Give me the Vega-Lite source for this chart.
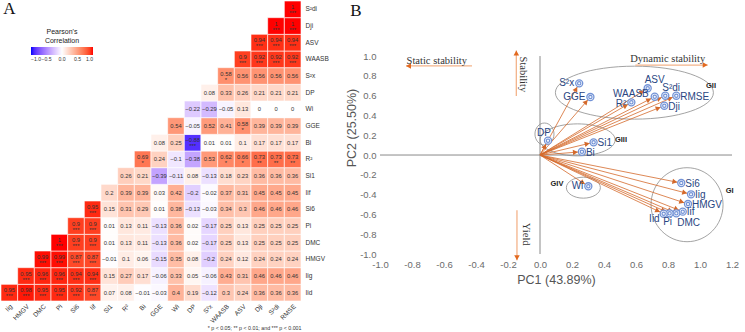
{
"$schema":"https://vega.github.io/schema/vega-lite/v6.json",
"padding":0,
"background":"white",
"config":{"view":{"stroke":null},"axis":{"grid":false,"ticks":false,"domain":false,"labelOverlap":false},"axisQuantitative":{"labelOverlap":false,"labelFlush":false},"font":"Liberation Sans"},
"spacing":16,
"datasets":{
"one":[{"k":1}],
"corr":[
{"r":"Iid","c":"Iig","v":0.95,"s":"***"},{"r":"Iid","c":"HMGV","v":0.98,"s":"***"},{"r":"Iid","c":"DMC","v":0.95,"s":"***"},{"r":"Iid","c":"Pi","v":0.95,"s":"***"},{"r":"Iid","c":"Si6","v":0.92,"s":"***"},{"r":"Iid","c":"Iif","v":0.87,"s":"***"},{"r":"Iid","c":"Si1","v":0.07,"s":""},{"r":"Iid","c":"R²","v":0.08,"s":""},{"r":"Iid","c":"Bi","v":-0.01,"s":""},{"r":"Iid","c":"GGE","v":-0.03,"s":""},{"r":"Iid","c":"Wi","v":0.4,"s":""},{"r":"Iid","c":"DP","v":0.19,"s":""},{"r":"Iid","c":"S²x","v":-0.12,"s":""},{"r":"Iid","c":"WAASB","v":0.3,"s":""},{"r":"Iid","c":"ASV","v":0.24,"s":""},{"r":"Iid","c":"Dji","v":0.36,"s":""},{"r":"Iid","c":"S²di","v":0.36,"s":""},{"r":"Iid","c":"RMSE","v":0.36,"s":""},
{"r":"Iig","c":"HMGV","v":0.95,"s":"***"},{"r":"Iig","c":"DMC","v":0.96,"s":"***"},{"r":"Iig","c":"Pi","v":0.96,"s":"***"},{"r":"Iig","c":"Si6","v":0.94,"s":"***"},{"r":"Iig","c":"Iif","v":0.94,"s":"***"},{"r":"Iig","c":"Si1","v":0.15,"s":""},{"r":"Iig","c":"R²","v":0.27,"s":""},{"r":"Iig","c":"Bi","v":0.17,"s":""},{"r":"Iig","c":"GGE","v":-0.06,"s":""},{"r":"Iig","c":"Wi","v":0.33,"s":""},{"r":"Iig","c":"DP","v":0.05,"s":""},{"r":"Iig","c":"S²x","v":-0.06,"s":""},{"r":"Iig","c":"WAASB","v":0.43,"s":""},{"r":"Iig","c":"ASV","v":0.31,"s":""},{"r":"Iig","c":"Dji","v":0.46,"s":""},{"r":"Iig","c":"S²di","v":0.46,"s":""},{"r":"Iig","c":"RMSE","v":0.46,"s":""},
{"r":"HMGV","c":"DMC","v":0.99,"s":"***"},{"r":"HMGV","c":"Pi","v":0.99,"s":"***"},{"r":"HMGV","c":"Si6","v":0.87,"s":"***"},{"r":"HMGV","c":"Iif","v":0.87,"s":"***"},{"r":"HMGV","c":"Si1","v":-0.01,"s":""},{"r":"HMGV","c":"R²","v":0.1,"s":""},{"r":"HMGV","c":"Bi","v":0.06,"s":""},{"r":"HMGV","c":"GGE","v":-0.15,"s":""},{"r":"HMGV","c":"Wi","v":0.35,"s":""},{"r":"HMGV","c":"DP","v":0.08,"s":""},{"r":"HMGV","c":"S²x","v":-0.2,"s":""},{"r":"HMGV","c":"WAASB","v":0.24,"s":""},{"r":"HMGV","c":"ASV","v":0.12,"s":""},{"r":"HMGV","c":"Dji","v":0.24,"s":""},{"r":"HMGV","c":"S²di","v":0.24,"s":""},{"r":"HMGV","c":"RMSE","v":0.24,"s":""},
{"r":"DMC","c":"Pi","v":1,"s":"***"},{"r":"DMC","c":"Si6","v":0.9,"s":"***"},{"r":"DMC","c":"Iif","v":0.9,"s":"***"},{"r":"DMC","c":"Si1","v":0.01,"s":""},{"r":"DMC","c":"R²","v":0.13,"s":""},{"r":"DMC","c":"Bi","v":0.11,"s":""},{"r":"DMC","c":"GGE","v":-0.13,"s":""},{"r":"DMC","c":"Wi","v":0.36,"s":""},{"r":"DMC","c":"DP","v":0.02,"s":""},{"r":"DMC","c":"S²x","v":-0.17,"s":""},{"r":"DMC","c":"WAASB","v":0.25,"s":""},{"r":"DMC","c":"ASV","v":0.13,"s":""},{"r":"DMC","c":"Dji","v":0.25,"s":""},{"r":"DMC","c":"S²di","v":0.25,"s":""},{"r":"DMC","c":"RMSE","v":0.25,"s":""},
{"r":"Pi","c":"Si6","v":0.9,"s":"***"},{"r":"Pi","c":"Iif","v":0.9,"s":"***"},{"r":"Pi","c":"Si1","v":0.01,"s":""},{"r":"Pi","c":"R²","v":0.13,"s":""},{"r":"Pi","c":"Bi","v":0.11,"s":""},{"r":"Pi","c":"GGE","v":-0.13,"s":""},{"r":"Pi","c":"Wi","v":0.36,"s":""},{"r":"Pi","c":"DP","v":0.02,"s":""},{"r":"Pi","c":"S²x","v":-0.17,"s":""},{"r":"Pi","c":"WAASB","v":0.25,"s":""},{"r":"Pi","c":"ASV","v":0.13,"s":""},{"r":"Pi","c":"Dji","v":0.25,"s":""},{"r":"Pi","c":"S²di","v":0.25,"s":""},{"r":"Pi","c":"RMSE","v":0.25,"s":""},
{"r":"Si6","c":"Iif","v":0.95,"s":"***"},{"r":"Si6","c":"Si1","v":0.15,"s":""},{"r":"Si6","c":"R²","v":0.31,"s":""},{"r":"Si6","c":"Bi","v":0.29,"s":""},{"r":"Si6","c":"GGE","v":0.01,"s":""},{"r":"Si6","c":"Wi","v":0.38,"s":""},{"r":"Si6","c":"DP","v":-0.13,"s":""},{"r":"Si6","c":"S²x","v":-0.03,"s":""},{"r":"Si6","c":"WAASB","v":0.34,"s":""},{"r":"Si6","c":"ASV","v":0.3,"s":""},{"r":"Si6","c":"Dji","v":0.46,"s":""},{"r":"Si6","c":"S²di","v":0.46,"s":""},{"r":"Si6","c":"RMSE","v":0.46,"s":""},
{"r":"Iif","c":"Si1","v":0.2,"s":""},{"r":"Iif","c":"R²","v":0.39,"s":""},{"r":"Iif","c":"Bi","v":0.39,"s":""},{"r":"Iif","c":"GGE","v":0.03,"s":""},{"r":"Iif","c":"Wi","v":0.42,"s":""},{"r":"Iif","c":"DP","v":-0.2,"s":""},{"r":"Iif","c":"S²x","v":-0.02,"s":""},{"r":"Iif","c":"WAASB","v":0.37,"s":""},{"r":"Iif","c":"ASV","v":0.31,"s":""},{"r":"Iif","c":"Dji","v":0.45,"s":""},{"r":"Iif","c":"S²di","v":0.45,"s":""},{"r":"Iif","c":"RMSE","v":0.45,"s":""},
{"r":"Si1","c":"R²","v":0.26,"s":""},{"r":"Si1","c":"Bi","v":0.21,"s":""},{"r":"Si1","c":"GGE","v":-0.39,"s":""},{"r":"Si1","c":"Wi","v":-0.11,"s":""},{"r":"Si1","c":"DP","v":0.08,"s":""},{"r":"Si1","c":"S²x","v":-0.13,"s":""},{"r":"Si1","c":"WAASB","v":0.18,"s":""},{"r":"Si1","c":"ASV","v":0.23,"s":""},{"r":"Si1","c":"Dji","v":0.36,"s":""},{"r":"Si1","c":"S²di","v":0.36,"s":""},{"r":"Si1","c":"RMSE","v":0.36,"s":""},
{"r":"R²","c":"Bi","v":0.69,"s":"*"},{"r":"R²","c":"GGE","v":0.24,"s":""},{"r":"R²","c":"Wi","v":-0.1,"s":""},{"r":"R²","c":"DP","v":-0.38,"s":""},{"r":"R²","c":"S²x","v":0.53,"s":""},{"r":"R²","c":"WAASB","v":0.62,"s":"*"},{"r":"R²","c":"ASV","v":0.66,"s":"*"},{"r":"R²","c":"Dji","v":0.73,"s":"**"},{"r":"R²","c":"S²di","v":0.73,"s":"**"},{"r":"R²","c":"RMSE","v":0.73,"s":"**"},
{"r":"Bi","c":"GGE","v":0.08,"s":""},{"r":"Bi","c":"Wi","v":0.25,"s":""},{"r":"Bi","c":"DP","v":-0.88,"s":"***"},{"r":"Bi","c":"S²x","v":0.01,"s":""},{"r":"Bi","c":"WAASB","v":0.01,"s":""},{"r":"Bi","c":"ASV","v":0.1,"s":""},{"r":"Bi","c":"Dji","v":0.17,"s":""},{"r":"Bi","c":"S²di","v":0.17,"s":""},{"r":"Bi","c":"RMSE","v":0.17,"s":""},
{"r":"GGE","c":"Wi","v":0.54,"s":""},{"r":"GGE","c":"DP","v":-0.05,"s":""},{"r":"GGE","c":"S²x","v":0.52,"s":""},{"r":"GGE","c":"WAASB","v":0.41,"s":""},{"r":"GGE","c":"ASV","v":0.58,"s":"*"},{"r":"GGE","c":"Dji","v":0.39,"s":""},{"r":"GGE","c":"S²di","v":0.39,"s":""},{"r":"GGE","c":"RMSE","v":0.39,"s":""},
{"r":"Wi","c":"DP","v":-0.22,"s":""},{"r":"Wi","c":"S²x","v":-0.29,"s":""},{"r":"Wi","c":"WAASB","v":-0.05,"s":""},{"r":"Wi","c":"ASV","v":0.13,"s":""},{"r":"Wi","c":"Dji","v":0,"s":""},{"r":"Wi","c":"S²di","v":0,"s":""},{"r":"Wi","c":"RMSE","v":0,"s":""},
{"r":"DP","c":"S²x","v":0.08,"s":""},{"r":"DP","c":"WAASB","v":0.33,"s":""},{"r":"DP","c":"ASV","v":0.26,"s":""},{"r":"DP","c":"Dji","v":0.21,"s":""},{"r":"DP","c":"S²di","v":0.21,"s":""},{"r":"DP","c":"RMSE","v":0.21,"s":""},
{"r":"S²x","c":"WAASB","v":0.58,"s":"*"},{"r":"S²x","c":"ASV","v":0.56,"s":""},{"r":"S²x","c":"Dji","v":0.56,"s":""},{"r":"S²x","c":"S²di","v":0.56,"s":""},{"r":"S²x","c":"RMSE","v":0.56,"s":""},
{"r":"WAASB","c":"ASV","v":0.9,"s":"***"},{"r":"WAASB","c":"Dji","v":0.92,"s":"***"},{"r":"WAASB","c":"S²di","v":0.92,"s":"***"},{"r":"WAASB","c":"RMSE","v":0.92,"s":"***"},
{"r":"ASV","c":"Dji","v":0.94,"s":"***"},{"r":"ASV","c":"S²di","v":0.94,"s":"***"},{"r":"ASV","c":"RMSE","v":0.94,"s":"***"},
{"r":"Dji","c":"S²di","v":1,"s":"***"},{"r":"Dji","c":"RMSE","v":1,"s":"***"},
{"r":"S²di","c":"RMSE","v":1,"s":"***"}
],
"pts":[
{"n":"S²x","pc1":0.245,"pc2":0.724},{"n":"GGE","pc1":0.315,"pc2":0.586},{"n":"ASV","pc1":0.673,"pc2":0.674},{"n":"WAASB","pc1":0.717,"pc2":0.589},{"n":"S²di","pc1":0.783,"pc2":0.599},{"n":"RMSE","pc1":0.852,"pc2":0.599},{"n":"Dji","pc1":0.777,"pc2":0.498},{"n":"R²","pc1":0.571,"pc2":0.532},{"n":"Si1","pc1":0.335,"pc2":0.128},{"n":"Bi","pc1":0.262,"pc2":0.033},{"n":"DP","pc1":0.05,"pc2":0.145},{"n":"Wi","pc1":0.302,"pc2":-0.316},{"n":"Si6","pc1":0.883,"pc2":-0.283},{"n":"Iig","pc1":0.944,"pc2":-0.397},{"n":"HMGV","pc1":0.925,"pc2":-0.495},{"n":"Iif","pc1":0.892,"pc2":-0.572},{"n":"DMC","pc1":0.852,"pc2":-0.589},{"n":"Pi","pc1":0.81,"pc2":-0.589},{"n":"Iid","pc1":0.773,"pc2":-0.593}
],
"ell":[
{"g":"GII","cx":0.59,"cy":0.63,"lx":1.069,"ly":0.7},{"g":"GIII","cx":0.235,"cy":0.153,"lx":0.506,"ly":0.148},{"g":"DPe","cx":0.028,"cy":0.212},{"g":"GIV","cx":0.271,"cy":-0.33,"lx":0.106,"ly":-0.296},{"g":"GI","cx":0.919,"cy":-0.502,"lx":1.185,"ly":-0.364}
],
"zero":[
{"x":0,"y":-1,"x2":0,"y2":1},{"x":-1,"y":0,"x2":1.2,"y2":0}
],
"panel":[{"t":"B","x":-1.15,"y":1.455}],
"ann":[
{"t":"Static stability","x":-0.425,"y":0.9,"x2":-0.8375,"y2":0.9,"tx":-0.645,"ty":0.945,"rot":0},
{"t":"Stability","x":-0.148,"y":0.596,"x2":-0.148,"y2":1.057,"tx":-0.108,"ty":0.815,"rot":90},
{"t":"Yield","x":-0.144,"y":-0.559,"x2":-0.144,"y2":-1.064,"tx":-0.0875,"ty":-0.8,"rot":90},
{"t":"Dynamic stability","x":0.596,"y":0.909,"x2":1.048,"y2":0.909,"tx":0.798,"ty":0.97,"rot":0}
]
},
"hconcat":[
{
"width":300,"height":300,
"layer":[
{"data":{"name":"corr"},"mark":{"type":"rect","stroke":"white","strokeWidth":0.6},
 "encoding":{
 "x":{"field":"c","type":"nominal","scale":{"domain":["Iig","HMGV","DMC","Pi","Si6","Iif","Si1","R²","Bi","GGE","Wi","DP","S²x","WAASB","ASV","Dji","S²di","RMSE"]},
  "axis":{"labelAngle":-45,"labelFontSize":6.5,"labelColor":"#333","labelPadding":2,"title":"* p < 0.05; ** p < 0.01; and *** p < 0.001","titleFontSize":5.3,"titleFontWeight":"normal","titleColor":"#333","titleAnchor":"end","titlePadding":1}},
 "y":{"field":"r","type":"nominal","scale":{"domain":["S²di","Dji","ASV","WAASB","S²x","DP","Wi","GGE","Bi","R²","Si1","Iif","Si6","Pi","DMC","HMGV","Iig","Iid"]},
  "axis":{"orient":"right","labelFontSize":6.5,"labelColor":"#333","labelPadding":4,"title":null}},
 "color":{"field":"v","type":"quantitative","scale":{"domain":[-1,0,1],"range":["#0000ff","#ffffff","#ff0000"],"interpolate":"lab"},
 "legend":{"title":["Pearson's","Correlation"],"orient":"none","legendX":30,"legendY":27,"direction":"horizontal","gradientLength":62,"gradientThickness":8,"titleFontSize":7,"titleFontWeight":"normal","titleColor":"#222","titleAlign":"center","titleAnchor":"middle","titlePadding":3,"labelFontSize":5.1,"labelColor":"#333","values":[-1,-0.5,0,0.5,1],"tickCount":5,"labelOverlap":false,"format":".1f","labelOffset":2}}}},
{"data":{"name":"corr"},"transform":[{"filter":"datum.s == ''"}],"mark":{"type":"text","fontSize":5.8,"color":"#333"},"encoding":{"x":{"field":"c","type":"nominal"},"y":{"field":"r","type":"nominal"},"text":{"field":"v","type":"quantitative"}}},
{"data":{"name":"corr"},"transform":[{"filter":"datum.s != ''"}],"mark":{"type":"text","fontSize":5.8,"color":"#333","dy":-2.5},"encoding":{"x":{"field":"c","type":"nominal"},"y":{"field":"r","type":"nominal"},"text":{"field":"v","type":"quantitative"}}},
{"data":{"name":"corr"},"transform":[{"filter":"datum.s != ''"}],"mark":{"type":"text","fontSize":6,"color":"#333","dy":3.5},"encoding":{"x":{"field":"c","type":"nominal"},"y":{"field":"r","type":"nominal"},"text":{"field":"s","type":"nominal"}}},
{"data":{"name":"one"},"mark":{"type":"text","font":"Liberation Serif","fontSize":17,"color":"#111"},"encoding":{"x":{"datum":"Iig","type":"nominal"},"y":{"datum":"S²di","type":"nominal"},"text":{"value":"A"}}}
]
},
{
"width":352,"height":253,
"layer":[
{"data":{"name":"zero"},"mark":{"type":"rule","color":"#8a8a8a","strokeWidth":1},
 "encoding":{
 "x":{"field":"x","type":"quantitative","scale":{"domain":[-1,1.2],"nice":false,"zero":false},
  "axis":{"title":"PC1 (43.89%)","values":[-1,-0.8,-0.6,-0.4,-0.2,0,0.2,0.4,0.6,0.8,1,1.2],"tickCount":12,"format":".1f","labelExpr":"replace(datum.label,'−','-')","labelOverlap":false,"labelFlush":false,"labelFontSize":9.5,"labelColor":"#6b6b6b","labelPadding":5,"titleFontSize":12.5,"titleFontWeight":"normal","titleColor":"#555","titlePadding":5}},
 "y":{"field":"y","type":"quantitative","scale":{"domain":[-1,1.556],"nice":false,"zero":false},
  "axis":{"title":"PC2 (25.50%)","values":[-1,-0.8,-0.6,-0.4,-0.2,0,0.2,0.4,0.6,0.8,1],"tickCount":11,"format":".1f","labelExpr":"replace(datum.label,'−','-')","labelOverlap":false,"labelFlush":false,"labelFontSize":9.5,"labelColor":"#6b6b6b","labelPadding":4,"titleFontSize":12.5,"titleFontWeight":"normal","titleColor":"#555","titlePadding":1}},
 "x2":{"field":"x2"},"y2":{"field":"y2"}}},
{"data":{"name":"ell"},"mark":{"type":"point","filled":false,"stroke":"#8c8c8c","strokeWidth":0.8,"size":25600,"opacity":1},
 "encoding":{"x":{"field":"cx","type":"quantitative"},"y":{"field":"cy","type":"quantitative"},
 "shape":{"field":"g","type":"nominal","legend":null,"scale":{"domain":["GII","GIII","DPe","GIV","GI"],"range":[
 "M0.9875 0C0.9875 0.1828 0.5454 0.331 0 0.331C-0.5454 0.331 -0.9875 0.1828 -0.9875 0C-0.9875 -0.1828 -0.5454 -0.331 0 -0.331C0.5454 -0.331 0.9875 -0.1828 0.9875 0Z",
 "M0.469 0C0.469 0.1105 0.259 0.2 0 0.2C-0.259 0.2 -0.469 0.1105 -0.469 0C-0.469 -0.1105 -0.259 -0.2 0 -0.2C0.259 -0.2 0.469 -0.1105 0.469 0Z",
 "M0.119 0C0.119 0.0759 0.0657 0.1375 0 0.1375C-0.0657 0.1375 -0.119 0.0759 -0.119 0C-0.119 -0.0759 -0.0657 -0.1375 0 -0.1375C0.0657 -0.1375 0.119 -0.0759 0.119 0Z",
 "M0.2125 0C0.2125 0.0724 0.1174 0.131 0 0.131C-0.1174 0.131 -0.2125 0.0724 -0.2125 0C-0.2125 -0.0724 -0.1174 -0.131 0 -0.131C0.1174 -0.131 0.2125 -0.0724 0.2125 0Z",
 "M0.45 0C0.45 0.2554 0.2485 0.4625 0 0.4625C-0.2485 0.4625 -0.45 0.2554 -0.45 0C-0.45 -0.2554 -0.2485 -0.4625 0 -0.4625C0.2485 -0.4625 0.45 -0.2554 0.45 0Z"]}}}},
{"data":{"name":"pts"},"mark":{"type":"rule","color":"#d4692b","strokeWidth":0.8},
 "encoding":{"x":{"field":"pc1","type":"quantitative"},"y":{"field":"pc2","type":"quantitative"},"x2":{"datum":0},"y2":{"datum":0}}},
{"data":{"name":"pts"},"transform":[{"calculate":"atan2(-datum.pc2*99, datum.pc1*160)*180/PI","as":"ang"}],
 "mark":{"type":"point","shape":"M-0.45 0L-1 -0.3L-1 0.3Z","size":324,"filled":true,"color":"#d4692b","opacity":1},
 "encoding":{"x":{"field":"pc1","type":"quantitative"},"y":{"field":"pc2","type":"quantitative"},"angle":{"field":"ang","type":"quantitative","scale":null}}},
{"data":{"name":"pts"},"mark":{"type":"point","shape":"circle","size":50,"filled":true,"fill":"#f4f7fd","stroke":"#7393d6","strokeWidth":1.3,"opacity":1},
 "encoding":{"x":{"field":"pc1","type":"quantitative"},"y":{"field":"pc2","type":"quantitative"}}},
{"data":{"name":"pts"},"mark":{"type":"point","shape":"circle","size":11,"filled":false,"stroke":"#7393d6","strokeWidth":1.2,"opacity":1},
 "encoding":{"x":{"field":"pc1","type":"quantitative"},"y":{"field":"pc2","type":"quantitative"}}},
{"data":{"name":"pts"},"transform":[{"filter":{"field":"n","oneOf":["RMSE","Dji","Si1","Bi","Si6","Iig","HMGV"]}}],
 "mark":{"type":"text","align":"left","baseline":"middle","dx":4,"dy":1,"fontSize":10,"color":"#2a4682"},
 "encoding":{"x":{"field":"pc1","type":"quantitative"},"y":{"field":"pc2","type":"quantitative"},"text":{"field":"n","type":"nominal"}}},
{"data":{"name":"pts"},"transform":[{"filter":{"field":"n","oneOf":["Iif"]}}],
 "mark":{"type":"text","align":"left","baseline":"middle","dx":4,"dy":0,"fontSize":10,"color":"#2a4682"},
 "encoding":{"x":{"field":"pc1","type":"quantitative"},"y":{"field":"pc2","type":"quantitative"},"text":{"field":"n","type":"nominal"}}},
{"data":{"name":"pts"},"transform":[{"filter":{"field":"n","oneOf":["S²x","GGE","Wi"]}}],
 "mark":{"type":"text","align":"right","baseline":"middle","dx":-5,"dy":0,"fontSize":10,"color":"#2a4682"},
 "encoding":{"x":{"field":"pc1","type":"quantitative"},"y":{"field":"pc2","type":"quantitative"},"text":{"field":"n","type":"nominal"}}},
{"data":{"name":"pts"},"transform":[{"filter":{"field":"n","oneOf":["WAASB"]}}],
 "mark":{"type":"text","align":"right","baseline":"middle","dx":-6,"dy":-3,"fontSize":10,"color":"#2a4682"},
 "encoding":{"x":{"field":"pc1","type":"quantitative"},"y":{"field":"pc2","type":"quantitative"},"text":{"field":"n","type":"nominal"}}},
{"data":{"name":"pts"},"transform":[{"filter":{"field":"n","oneOf":["R²"]}}],
 "mark":{"type":"text","align":"right","baseline":"middle","dx":-5,"dy":2,"fontSize":10,"color":"#2a4682"},
 "encoding":{"x":{"field":"pc1","type":"quantitative"},"y":{"field":"pc2","type":"quantitative"},"text":{"field":"n","type":"nominal"}}},
{"data":{"name":"pts"},"transform":[{"filter":{"field":"n","oneOf":["ASV","S²di"]}}],
 "mark":{"type":"text","align":"left","baseline":"middle","dx":-3,"dy":-8,"fontSize":10,"color":"#2a4682"},
 "encoding":{"x":{"field":"pc1","type":"quantitative"},"y":{"field":"pc2","type":"quantitative"},"text":{"field":"n","type":"nominal"}}},
{"data":{"name":"pts"},"transform":[{"filter":{"field":"n","oneOf":["DP"]}}],
 "mark":{"type":"text","align":"center","baseline":"middle","dx":-4,"dy":-8,"fontSize":10,"color":"#2a4682"},
 "encoding":{"x":{"field":"pc1","type":"quantitative"},"y":{"field":"pc2","type":"quantitative"},"text":{"field":"n","type":"nominal"}}},
{"data":{"name":"pts"},"transform":[{"filter":{"field":"n","oneOf":["Pi"]}}],
 "mark":{"type":"text","align":"center","baseline":"middle","dx":-2,"dy":9,"fontSize":10,"color":"#2a4682"},
 "encoding":{"x":{"field":"pc1","type":"quantitative"},"y":{"field":"pc2","type":"quantitative"},"text":{"field":"n","type":"nominal"}}},
{"data":{"name":"pts"},"transform":[{"filter":{"field":"n","oneOf":["DMC"]}}],
 "mark":{"type":"text","align":"left","baseline":"middle","dx":1,"dy":10,"fontSize":10,"color":"#2a4682"},
 "encoding":{"x":{"field":"pc1","type":"quantitative"},"y":{"field":"pc2","type":"quantitative"},"text":{"field":"n","type":"nominal"}}},
{"data":{"name":"pts"},"transform":[{"filter":{"field":"n","oneOf":["Iid"]}}],
 "mark":{"type":"text","align":"right","baseline":"middle","dx":-4,"dy":5,"fontSize":10,"color":"#2a4682"},
 "encoding":{"x":{"field":"pc1","type":"quantitative"},"y":{"field":"pc2","type":"quantitative"},"text":{"field":"n","type":"nominal"}}},
{"data":{"name":"ell"},"transform":[{"filter":"isValid(datum.lx)"}],
 "mark":{"type":"text","align":"center","baseline":"middle","fontSize":7.5,"fontWeight":"bold","color":"#222"},
 "encoding":{"x":{"field":"lx","type":"quantitative"},"y":{"field":"ly","type":"quantitative"},"text":{"field":"g","type":"nominal"}}},
{"data":{"name":"ann"},"mark":{"type":"rule","color":"#f3b38a","strokeWidth":1.3},
 "encoding":{"x":{"field":"x","type":"quantitative"},"y":{"field":"y","type":"quantitative"},"x2":{"field":"x2"},"y2":{"field":"y2"}}},
{"data":{"name":"ann"},"transform":[{"calculate":"atan2(-(datum.y2-datum.y)*99, (datum.x2-datum.x)*160)*180/PI","as":"ang"}],
 "mark":{"type":"point","shape":"M0 0L-1 -0.55L-1 0.55Z","size":100,"filled":true,"color":"#e2691f","opacity":1},
 "encoding":{"x":{"field":"x2","type":"quantitative"},"y":{"field":"y2","type":"quantitative"},"angle":{"field":"ang","type":"quantitative","scale":null}}},
{"data":{"name":"ann"},"mark":{"type":"text","align":"center","baseline":"middle","font":"Liberation Serif","fontSize":10.5,"color":"#333"},
 "encoding":{"x":{"field":"tx","type":"quantitative"},"y":{"field":"ty","type":"quantitative"},"text":{"field":"t","type":"nominal"},"angle":{"field":"rot","type":"quantitative","scale":null}}},
{"data":{"name":"panel"},"mark":{"type":"text","align":"center","baseline":"middle","font":"Liberation Serif","fontSize":17,"color":"#111"},
 "encoding":{"x":{"field":"x","type":"quantitative"},"y":{"field":"y","type":"quantitative"},"text":{"field":"t","type":"nominal"}}}
]
}
]
}
